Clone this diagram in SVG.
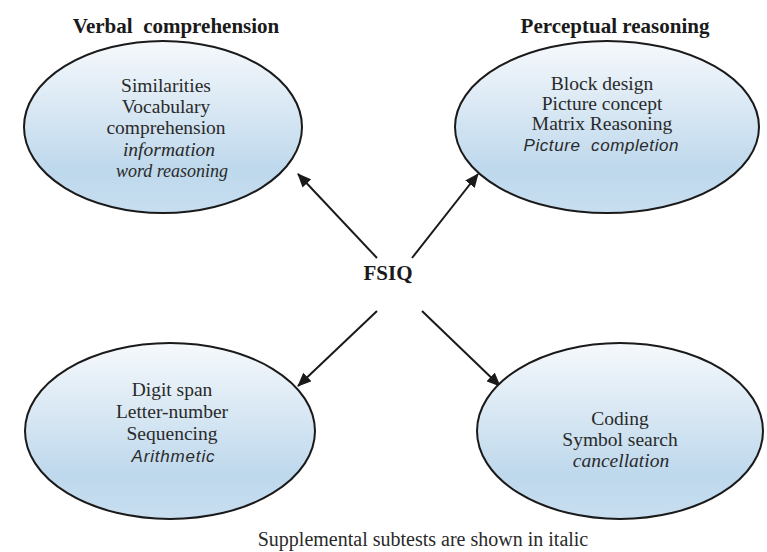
<svg xmlns="http://www.w3.org/2000/svg" width="767" height="552" viewBox="0 0 767 552">
<defs>
<linearGradient id="fill" x1="0" y1="0" x2="0" y2="1">
<stop offset="0" stop-color="#f6f9fc"/>
<stop offset="0.75" stop-color="#bed8ec"/>
<stop offset="1" stop-color="#c8def0"/>
</linearGradient>
<marker id="arr" markerUnits="userSpaceOnUse" markerWidth="14" markerHeight="12" viewBox="0 0 14 12" refX="13" refY="6" orient="auto">
<path d="M0,0 L14,6 L0,12 Z" fill="#1a1a1a"/>
</marker>
<style>
.ell{fill:url(#fill);stroke:#1a1a1a;stroke-width:2}
.t{font-family:"Liberation Serif","Times New Roman",serif;font-size:19.5px;fill:#2a2a2a;text-anchor:middle}
.ti{font-style:italic}
.si{font-family:"Liberation Sans",Arial,sans-serif;font-style:italic;font-size:17px}
.h{font-family:"Liberation Serif","Times New Roman",serif;font-size:21px;font-weight:bold;fill:#1a1a1a;text-anchor:middle}
.c{stroke:#1a1a1a;stroke-width:2;fill:none;marker-end:url(#arr)}
</style>
</defs>
<rect width="767" height="552" fill="#ffffff"/>
<g id="connectors">
<line class="c" x1="377" y1="258" x2="298" y2="174"/>
<line class="c" x1="412" y1="258" x2="478" y2="174"/>
<line class="c" x1="377" y1="311" x2="298" y2="386"/>
<line class="c" x1="422" y1="311" x2="500" y2="386"/>
</g>
<g id="verbal">
<text class="h" x="176" y="33" xml:space="preserve">Verbal  comprehension</text>
<ellipse class="ell" cx="163" cy="127" rx="139" ry="86"/>
<text class="t" x="166" y="92">Similarities</text>
<text class="t" x="166" y="113">Vocabulary</text>
<text class="t" x="166" y="134">comprehension</text>
<text class="t ti" x="169" y="156">information</text>
<text class="t ti" x="172" y="177" style="font-size:18px">word reasoning</text>
</g>
<g id="perceptual">
<text class="h" x="615" y="33">Perceptual reasoning</text>
<ellipse class="ell" cx="607" cy="127" rx="152" ry="86"/>
<text class="t" x="602" y="90">Block design</text>
<text class="t" x="602" y="110">Picture concept</text>
<text class="t" x="602" y="130">Matrix Reasoning</text>
<text class="t si" x="601" y="151" textLength="155" xml:space="preserve">Picture  completion</text>
</g>
<g id="fsiq">
<text class="h" x="388" y="280">FSIQ</text>
</g>
<g id="working">
<ellipse class="ell" cx="170" cy="431" rx="145" ry="88"/>
<text class="t" x="172" y="396">Digit span</text>
<text class="t" x="172" y="418">Letter-number</text>
<text class="t" x="172" y="440">Sequencing</text>
<text class="t si" x="173" y="462" textLength="83">Arithmetic</text>
</g>
<g id="processing">
<ellipse class="ell" cx="620" cy="431" rx="143" ry="88"/>
<text class="t" x="620" y="425">Coding</text>
<text class="t" x="620" y="446">Symbol search</text>
<text class="t ti" x="621" y="467">cancellation</text>
</g>
<g id="note">
<text class="t" x="423" y="546" style="font-size:20px">Supplemental subtests are shown in italic</text>
</g>
</svg>
